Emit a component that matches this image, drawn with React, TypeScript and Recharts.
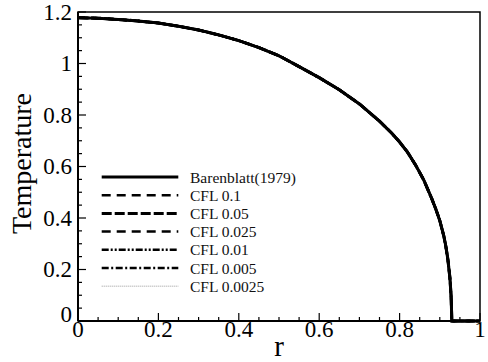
import React from 'react';
import { LineChart, Line, XAxis, YAxis, ReferenceArea, Legend } from 'recharts';

const FONT = "'Liberation Serif', 'DejaVu Serif', serif";
const textStyle = { fontFamily: FONT };

// Radial positions and the similarity temperature profile
const rValues = [
  0, 0.05, 0.1, 0.15, 0.2, 0.25, 0.3, 0.35, 0.4, 0.45, 0.5, 0.55, 0.6, 0.65, 0.7, 0.75,
  0.78, 0.8, 0.82, 0.84, 0.86, 0.88, 0.89, 0.9, 0.91, 0.915, 0.92, 0.925, 0.928, 0.93, 0.95, 1.0,
];
const barenblatt = [
  1.178, 1.176, 1.171, 1.165, 1.157, 1.145, 1.13, 1.111, 1.089, 1.062, 1.03, 0.988, 0.945, 0.898, 0.843, 0.776,
  0.73, 0.695, 0.655, 0.605, 0.548, 0.475, 0.435, 0.39, 0.33, 0.29, 0.24, 0.17, 0.1, 0, 0, 0,
];
// The numerical runs at every CFL number lie on the analytic profile at this scale
const cfl0100 = barenblatt;
const cfl0050 = barenblatt;
const cfl0025 = barenblatt;
const cfl0010 = barenblatt;
const cfl0005 = barenblatt;
const cfl00025 = barenblatt;

const xTicks = [0, 0.05, 0.1, 0.15, 0.2, 0.25, 0.3, 0.35, 0.4, 0.45, 0.5, 0.55, 0.6, 0.65, 0.7, 0.75, 0.8, 0.85, 0.9, 0.95, 1];
const xMajor = [0, 0.2, 0.4, 0.6, 0.8, 1];
const xLabels = ['0', '0.2', '0.4', '0.6', '0.8', '1'];
const yTicks = [0, 0.05, 0.1, 0.15, 0.2, 0.25, 0.3, 0.35, 0.4, 0.45, 0.5, 0.55, 0.6, 0.65, 0.7, 0.75, 0.8, 0.85, 0.9, 0.95, 1, 1.05, 1.1, 1.15, 1.2];
const yMajor = [0, 0.2, 0.4, 0.6, 0.8, 1, 1.2];
const yLabels = ['0', '0.2', '0.4', '0.6', '0.8', '1', '1.2'];

const seriesNames = ['Barenblatt(1979)', 'CFL 0.1', 'CFL 0.05', 'CFL 0.025', 'CFL 0.01', 'CFL 0.005', 'CFL 0.0025'];
const seriesValues = [barenblatt, cfl0100, cfl0050, cfl0025, cfl0010, cfl0005, cfl00025];

const seriesStyle = [
  { stroke: '#000', width: 3, dash: undefined as string | undefined },
  { stroke: '#000', width: 2.5, dash: '9 6' },
  { stroke: '#000', width: 3, dash: '10 3' },
  { stroke: '#000', width: 2.5, dash: '9 6' },
  { stroke: '#000', width: 2.5, dash: '7 2 2 2 2 2' },
  { stroke: '#000', width: 2.5, dash: '7 2.5 2 2.5' },
  { stroke: '#bbb', width: 1.5, dash: '1 1' },
];

const keys = seriesNames.map((_, i) => `s${i}`);

const data = rValues.map((r, j) => {
  const row: Record<string, number> = { r };
  seriesValues.forEach((vals, i) => {
    row[keys[i]] = vals[j];
  });
  return row;
});

const XTick = (props: any) => {
  const { x, y, payload } = props;
  const idx = xMajor.indexOf(payload.value);
  const major = idx >= 0;
  return (
    <g>
      <line x1={x} x2={x} y1={y} y2={y - (major ? 8 : 4)} stroke="#000" strokeWidth={1.2} />
      {major && (
        <text x={x} y={y + 16} textAnchor="middle" style={textStyle} fontSize={23} fill="#000">
          {xLabels[idx]}
        </text>
      )}
    </g>
  );
};

const YTick = (props: any) => {
  const { x, y, payload } = props;
  const idx = yMajor.indexOf(payload.value);
  const major = idx >= 0;
  const baseline = payload.value === 0 ? y + 1 : y + 7.5;
  return (
    <g>
      <line x1={x} x2={x + (major ? 8 : 4)} y1={y} y2={y} stroke="#000" strokeWidth={1.2} />
      {major && (
        <text x={x - 6} y={baseline} textAnchor="end" style={textStyle} fontSize={23} fill="#000">
          {yLabels[idx]}
        </text>
      )}
    </g>
  );
};

const LegendBox = () => (
  <svg width={240} height={135} style={{ display: 'block', overflow: 'visible' }}>
    {seriesNames.map((name, i) => {
      const cy = 12 + i * 18.2;
      const st = seriesStyle[i];
      return (
        <g key={name}>
          <line
            x1={6.7}
            x2={83.3}
            y1={cy}
            y2={cy}
            stroke={st.stroke}
            strokeWidth={st.width}
            strokeDasharray={st.dash}
          />
          <text x={95} y={cy + 5.5} style={textStyle} fontSize={15.5} fill="#111">
            {name}
          </text>
        </g>
      );
    })}
  </svg>
);

const drawOrder = [6, 1, 2, 3, 4, 5, 0];

export default function App() {
  return (
    <div style={{ position: 'absolute', left: 0, top: 0, fontFamily: FONT }}>
      <LineChart width={488} height={362} data={data} margin={{ top: 12, right: 8, bottom: 0, left: 0 }}>
        <XAxis
          dataKey="r"
          type="number"
          domain={[0, 1]}
          ticks={xTicks}
          interval={0}
          tick={<XTick />}
          tickLine={false}
          tickSize={0}
          tickMargin={0}
          height={41}
          axisLine={{ stroke: '#000', strokeWidth: 2 }}
          label={(p: any) => {
            const vb = p.viewBox;
            return (
              <text x={vb.x + vb.width / 2} y={vb.y + 35} textAnchor="middle" style={textStyle} fontSize={29} fill="#000">
                r
              </text>
            );
          }}
        />
        <YAxis
          type="number"
          domain={[0, 1.2]}
          ticks={yTicks}
          interval={0}
          tick={<YTick />}
          tickLine={false}
          tickSize={0}
          tickMargin={0}
          width={78}
          axisLine={{ stroke: '#000', strokeWidth: 2 }}
          label={(p: any) => {
            const vb = p.viewBox;
            const cx = 31;
            const cy = vb.y + vb.height / 2 - 3;
            return (
              <text
                x={cx}
                y={cy}
                transform={`rotate(-90, ${cx}, ${cy})`}
                textAnchor="middle"
                style={{ fontFamily: FONT, fill: '#000' }}
                fontSize={28}
              >
                Temperature
              </text>
            );
          }}
        />
        <ReferenceArea x1={0} x2={1} y1={0} y2={1.2} fill="none" stroke="#000" strokeWidth={1.5} ifOverflow="visible" />
        {drawOrder.map((i) => (
          <Line
            key={keys[i]}
            dataKey={keys[i]}
            name={seriesNames[i]}
            type="linear"
            stroke={seriesStyle[i].stroke}
            strokeWidth={seriesStyle[i].width}
            strokeDasharray={seriesStyle[i].dash}
            dot={false}
            activeDot={false}
            isAnimationActive={false}
          />
        ))}
        <Legend
          layout="vertical"
          align="center"
          verticalAlign="middle"
          wrapperStyle={{ position: 'absolute', left: 95, top: 165, width: 240, height: 135 }}
          content={() => <LegendBox />}
        />
      </LineChart>
    </div>
  );
}
